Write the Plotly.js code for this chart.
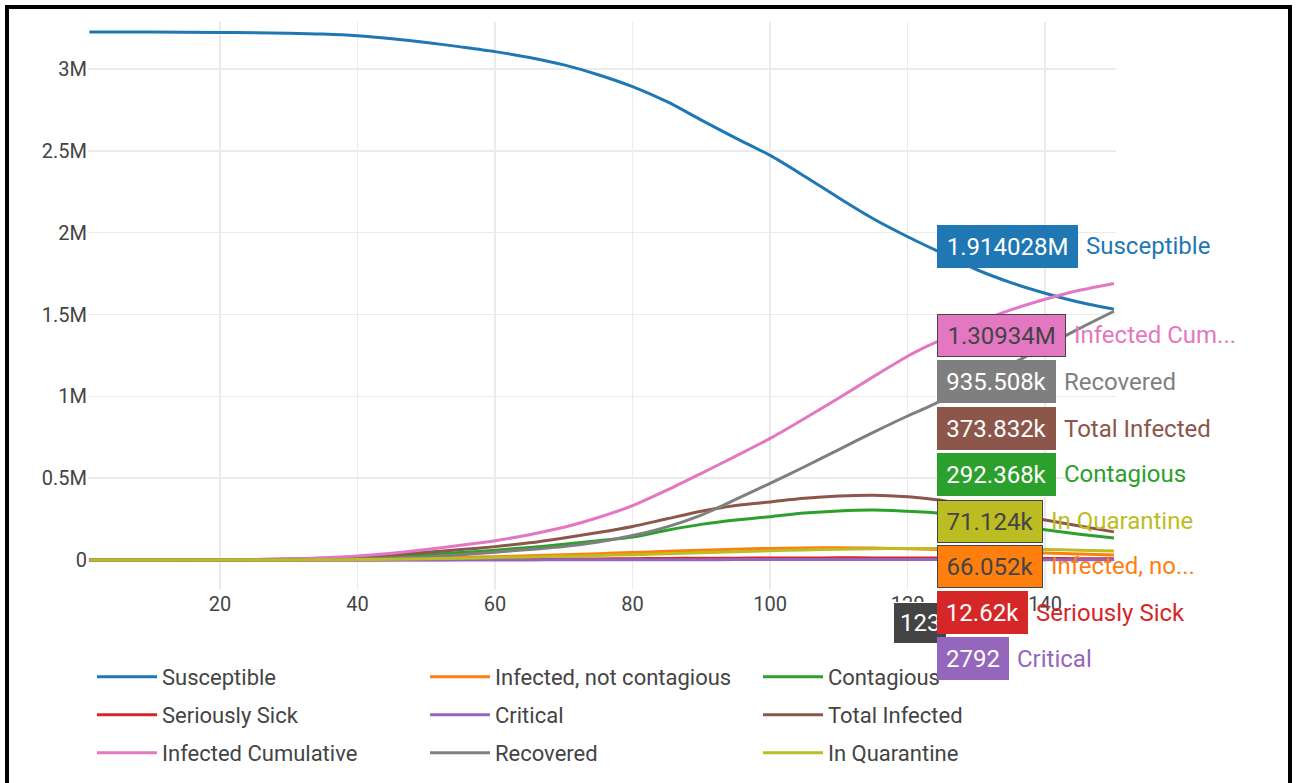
<!DOCTYPE html>
<html>
<head>
<meta charset="utf-8">
<script src="https://cdn.plot.ly/plotly-3.0.1.min.js"></script>
<style>
  html, body { margin: 0; padding: 0; background: #fff; overflow: hidden; }
  #chart { position: absolute; left: 0; top: 0; width: 1297px; height: 783px; }
  #frame { position: absolute; left: 5px; top: 5px; width: 1279px; height: 800px;
           border: 4px solid #000; pointer-events: none; }
</style>
</head>
<body>
<div id="chart"></div>
<div id="frame"></div>
<script>
// ---- data ----
const days = [1,10,20,25,30,35,40,45,50,55,60,65,70,75,80,85,90,95,100,105,110,115,120,123,125,130,135,140,145,150];

const susceptible = [3226000,3225500,3223500,3221500,3219000,3213500,3203000,3185000,3162000,3135000,3106000,3070000,3025000,2965000,2892000,2800000,2688000,2578000,2472000,2345000,2212000,2085000,1975000,1914028,1875000,1775000,1695000,1630000,1575000,1533000];
const infectedNotContagious = [0,0,500,1000,2000,3000,5000,8000,12000,16000,20000,26000,32000,39000,46000,53000,60000,66000,71000,74000,75000,73000,69000,66052,64000,57000,50000,43000,37000,31000];
const contagious = [0,200,1000,2000,4000,8000,14000,23000,34000,46000,60000,77000,96000,118000,140000,182000,218000,245000,265000,287000,300000,305000,298000,292368,283000,250000,215000,185000,158000,134000];
const seriouslySick = [0,0,50,100,200,400,700,1200,1800,2600,3500,4600,5800,7100,8500,9700,10800,11700,12400,12900,13300,13200,12850,12620,12400,11500,10500,9500,8500,7500];
const critical = [0,0,10,20,40,80,150,260,400,570,780,1020,1290,1580,1880,2150,2400,2580,2710,2790,2830,2840,2810,2792,2760,2620,2420,2200,1980,1770];
const totalInfected = [0,300,1500,3000,6000,11000,20000,33000,48000,64000,82000,105000,135000,168000,205000,252000,298000,333000,355000,377000,391000,396000,386000,373832,364000,325000,285000,245000,208000,172000];
const infectedCumulative = [0,500,2000,4000,7000,14000,25000,42000,64000,90000,118000,155000,200000,260000,332000,427000,530000,635000,743000,865000,990000,1120000,1245000,1309340,1348000,1448000,1528000,1593000,1648000,1690000];
const recovered = [0,0,100,300,800,2500,6000,12000,20000,32000,48000,65000,82000,110000,150000,203000,275000,370000,469000,570000,675000,780000,880000,935508,975000,1085000,1195000,1305000,1415000,1520000];
const inQuarantine = [0,0,300,600,1000,2000,3000,5000,8000,11000,15000,19000,23000,28000,33000,39000,45000,51000,57000,62000,66000,69000,70500,71124,71200,70000,68000,65000,60000,55000];

const seriesNames = ["Susceptible","Infected, not contagious","Contagious","Seriously Sick","Critical","Total Infected","Infected Cumulative","Recovered","In Quarantine"];
const seriesValues = [susceptible,infectedNotContagious,contagious,seriouslySick,critical,totalInfected,infectedCumulative,recovered,inQuarantine];
const colors = ["#1f77b4","#ff7f0e","#2ca02c","#d62728","#9467bd","#8c564b","#e377c2","#7f7f7f","#bcbd22"];
const hoverDay = 123;

const yTickVals = [0,500000,1000000,1500000,2000000,2500000,3000000];
const yTickText = ["0","0.5M","1M","1.5M","2M","2.5M","3M"];
const xTickVals = [20,40,60,80,100,120,140];

// ---- layout constants ----
const W = 1297, H = 783;
const M = {l: 88, r: 181, t: 22, b: 193, autoexpand: false};
const PW = W - M.l - M.r, PH = H - M.t - M.b;
const px2paperX = p => (p - M.l) / PW;
const py2paperY = p => (H - M.b - p) / PH;
const FONT = "Roboto, 'Open Sans', Arial, sans-serif";

const legendOf = i => (i < 3 ? "legend" : (i < 6 ? "legend2" : "legend3"));

const traces = seriesNames.map((n, i) => ({
  type: "scatter", mode: "lines", name: n,
  x: days, y: seriesValues[i],
  line: {color: colors[i], width: 3, shape: "spline", smoothing: 0.8},
  legend: legendOf(i),
  hoverinfo: "skip"
}));

// ---- static hover labels ----
function fmt(v) {
  if (v >= 1e6) return +(v / 1e6).toFixed(6) + "M";
  if (v >= 1e4) return +(v / 1e3).toFixed(3) + "k";
  return String(Math.round(v));
}
function shortName(n) { return n.length > 15 ? n.slice(0, 12) + "..." : n; }

const hi = days.indexOf(hoverDay);
const labelOrder = [0, 6, 7, 5, 2, 8, 1, 3, 4];
const labelCenterY = [246.5, 335, 381.5, 428.5, 474, 521, 566, 612.5, 658.5];
const labelRight = [1078, 1066, 1056, 1056, 1056, 1043, 1043, 1028, 1009];
const boxLeft = 937;
const darkText = {6: true, 8: true, 1: true};

const annotations = [];
labelOrder.forEach((si, k) => {
  annotations.push({
    x: hoverDay, y: seriesValues[si][hi], xref: "x", yref: "y",
    ax: px2paperX(boxLeft), ay: py2paperY(labelCenterY[k]),
    axref: "x domain", ayref: "y domain",
    text: "", showarrow: true, arrowhead: 0, arrowwidth: 1.5,
    arrowcolor: colors[si], standoff: 0, startstandoff: 0
  });
});
annotations.push({
  x: px2paperX(893), y: py2paperY(602), xref: "paper", yref: "paper",
  xanchor: "left", yanchor: "top", showarrow: false,
  text: String(hoverDay), bgcolor: "#444", bordercolor: "#fff", borderwidth: 1, borderpad: 6,
  font: {family: FONT, size: 24, color: "#fff"}
});
labelOrder.forEach((si, k) => {
  const dark = !!darkText[si];
  const w = labelRight[k] - boxLeft;
  annotations.push({
    x: px2paperX(boxLeft), y: py2paperY(labelCenterY[k]), xref: "paper", yref: "paper",
    xanchor: "left", yanchor: "middle", showarrow: false,
    text: fmt(seriesValues[si][hi]),
    width: w - 6, height: 37, align: "center", valign: "middle",
    bgcolor: colors[si], bordercolor: dark ? "#444" : colors[si], borderwidth: 1, borderpad: 2,
    font: {family: FONT, size: 24, color: dark ? "#444" : "#fff"}
  });
  annotations.push({
    x: px2paperX(labelRight[k] + 6), y: py2paperY(labelCenterY[k]), xref: "paper", yref: "paper",
    xanchor: "left", yanchor: "middle", showarrow: false,
    text: shortName(seriesNames[si]),
    font: {family: FONT, size: 24, color: colors[si]}
  });
});

const legendBase = {
  orientation: "h", xanchor: "left", yanchor: "middle", x: px2paperX(92),
  font: {family: FONT, size: 22, color: "#444"},
  entrywidth: 258, entrywidthmode: "pixels", itemwidth: 60,
  bgcolor: "rgba(0,0,0,0)", traceorder: "normal"
};

const layout = {
  width: W, height: H,
  margin: M,
  paper_bgcolor: "#fff", plot_bgcolor: "#fff",
  font: {family: FONT, size: 20, color: "#444"},
  xaxis: {
    range: [0.8, 150.3], tickvals: xTickVals, showgrid: true, gridcolor: "#ebebeb", gridwidth: 1.5,
    zeroline: false, showline: false, ticks: "", tickfont: {family: FONT, size: 20, color: "#444"}
  },
  yaxis: {
    range: [-183000, 3287000], tickvals: yTickVals, ticktext: yTickText,
    showgrid: true, gridcolor: "#ebebeb", gridwidth: 1.5, zeroline: false, showline: false, ticks: "",
    tickfont: {family: FONT, size: 20, color: "#444"}
  },
  showlegend: true,
  legend: Object.assign({}, legendBase, {y: py2paperY(677)}),
  legend2: Object.assign({}, legendBase, {y: py2paperY(715)}),
  legend3: Object.assign({}, legendBase, {y: py2paperY(753)}),
  annotations: annotations
};

Plotly.newPlot("chart", traces, layout, {displayModeBar: false, staticPlot: true});
</script>
</body>
</html>
